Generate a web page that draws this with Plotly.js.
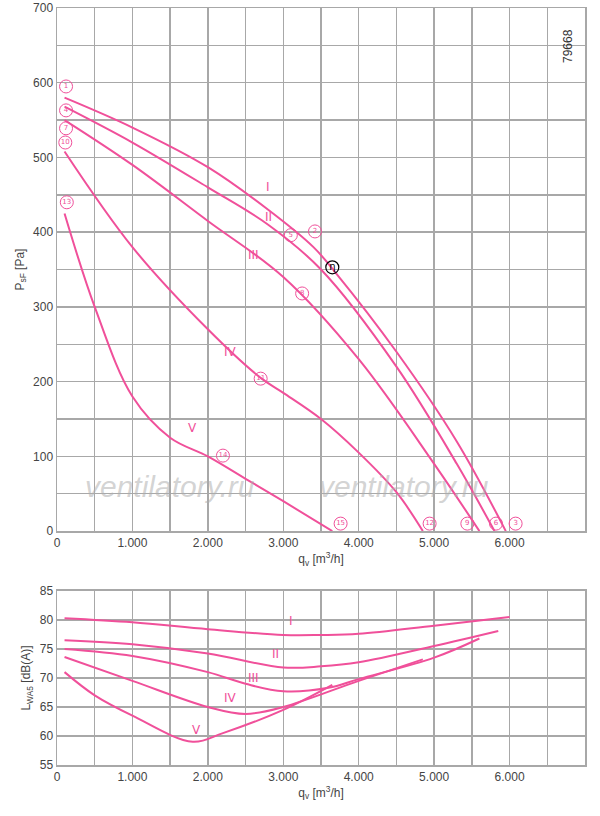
<!DOCTYPE html><html><head><script src="https://cdn.plot.ly/plotly-3.0.1.min.js"></script>
<style>body{margin:0}</style></head><body><div id="c" style="width:600px;height:816px"></div><script>
const names=['I','II','III','IV','V'];
const pq=[[100,1000,2000,2800,3400,3700,4500,5300,5950],[100,1000,2000,2800,3500,4500,5300,5800],[100,1000,2000,3000,4000,5000,5600],[100,1000,2000,2700,3000,3500,4000,4500,4850],[100,500,1000,1500,2000,2500,3000,3650]];
const pp=[[580,540,487,430,380,345,240,120,0],[568,520,460,410,350,220,90,0],[550,490,415,340,230,90,0],[508,380,270,205,185,150,105,52,0],[425,300,180,125,100,70,40,0]];
const nq=[[100,1000,2000,3000,3500,4000,5000,6000],[100,1000,2000,3000,3500,4000,5000,5850],[100,1000,2000,2500,3000,3600,4000,5000,5600],[100,1000,2000,2500,3000,4000,4850],[100,500,1000,1800,2200,3000,3650]];
const nl=[[80.3,79.6,78.4,77.4,77.4,77.6,79,80.5],[76.5,75.8,74.2,71.8,72,72.7,75.5,78.1],[75,73.8,71,69,67.7,68.3,69.8,73.5,76.8],[73.6,69.5,65,63.8,65,69.5,73.2],[71,67,63.5,59,60.5,64.5,68.8]];
const markQ=[120,120,120,110,130,3420,3100,3250,2700,2200,6080,5820,5440,4940,3760];
const markP=[595,563,539,520,440,401,396,318,204,101,10,10,10,10,10];
const markT=['1','4','7','10','13','2','5','8','11','14','3','6','9','12','15'];
const xtl=['0','1.000','2.000','3.000','4.000','5.000','6.000','7.000'];
const C='#f0509a';
const data=[];
names.forEach((n,i)=>{data.push({x:pq[i],y:pp[i],mode:'lines',line:{color:C,width:2,shape:'spline'},xaxis:'x',yaxis:'y',hoverinfo:'skip'});
data.push({x:nq[i],y:nl[i],mode:'lines',line:{color:C,width:2,shape:'spline'},xaxis:'x2',yaxis:'y2',hoverinfo:'skip'});});
data.push({x:markQ,y:markP,mode:'markers+text',text:markT,textposition:'middle center',textfont:{size:7,color:C,family:'DejaVu Sans'},marker:{symbol:'circle-open',size:13,color:C,line:{width:1}},xaxis:'x',yaxis:'y'});
data.push({x:[3650],y:[353],mode:'markers+text',text:['η'],textposition:'middle center',textfont:{size:10,color:'#000',family:'DejaVu Sans'},marker:{symbol:'circle-open',size:13,color:'#000',line:{width:1.2}},xaxis:'x',yaxis:'y'});
const ann=[];
const t=(x,y,s,xr,yr)=>ann.push({x,y,text:s,xref:xr,yref:yr,showarrow:false,font:{color:C,size:12,family:'DejaVu Sans'}});
[[2800,460,'I'],[2800,420,'II'],[2600,370,'III'],[2300,240,'IV'],[1800,138,'V']].forEach(a=>t(a[0],a[1],a[2],'x','y'));
[[3100,79.8,'I'],[2900,74.2,'II'],[2600,70,'III'],[2300,66.5,'IV'],[1850,61,'V']].forEach(a=>t(a[0],a[1],a[2],'x2','y2'));
ann.push({x:0.985,y:0.975,xref:'paper',yref:'paper',text:'79668',textangle:-90,showarrow:false,font:{size:12,color:'#333',family:'Liberation Sans'}});
[1500,4600].forEach(x=>ann.push({x,y:60,xref:'x',yref:'y',text:'<i>ventilatory.ru</i>',showarrow:false,font:{size:30,color:'rgba(175,175,175,0.55)',family:'Liberation Sans'}}));
const gx=[];for(let v=0;v<=7000;v+=500)gx.push(v);
const ax={range:[0,7000],gridcolor:'#a8a8a8',gridwidth:1.5,showline:true,linecolor:'#a8a8a8',linewidth:1.5,mirror:true,ticks:'',zeroline:false,tickfont:{size:12,color:'#444'}};
function xa(an){return Object.assign({},ax,{tickvals:gx,ticktext:gx.map(v=>v%1000===0?xtl[v/1000]:''),anchor:an,title:{text:'q<sub>v</sub> [m<sup>3</sup>/h]',font:{size:12,color:'#444'},standoff:4}});}
const gy=[];for(let v=0;v<=700;v+=50)gy.push(v);
const gy2=[55,60,65,70,75,80,85];
const layout={width:600,height:816,margin:{l:57,r:15,t:8,b:51},showlegend:false,paper_bgcolor:'#fff',plot_bgcolor:'#fff',font:{family:'Liberation Sans',color:'#444'},
xaxis:xa('y'),xaxis2:xa('y2'),
yaxis:Object.assign({},ax,{domain:[0.309,1],range:[0,700],tickvals:gy,ticktext:gy.map(v=>v%100===0?String(v):''),anchor:'x',title:{text:'P<sub>sF</sub> [Pa]',font:{size:12,color:'#444'},standoff:6}}),
yaxis2:Object.assign({},ax,{domain:[0,0.23],range:[55,85],tickvals:gy2,ticktext:gy2.map(String),anchor:'x2',title:{text:'L<sub>WA5</sub> [dB(A)]',font:{size:12,color:'#444'},standoff:6}}),
annotations:ann};
Plotly.newPlot('c',data,layout,{staticPlot:true});
</script></body></html>
